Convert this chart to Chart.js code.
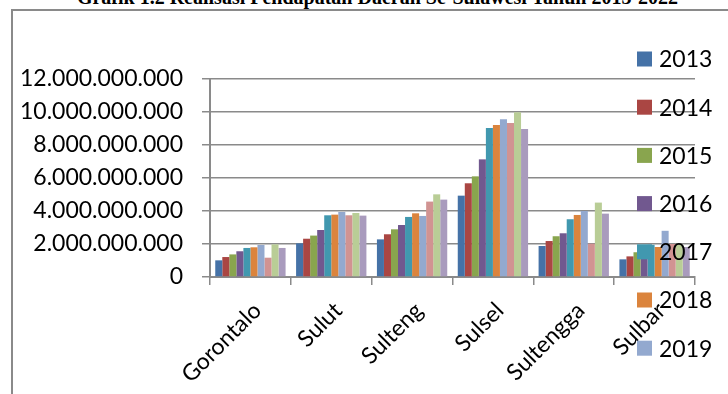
<!DOCTYPE html>
<html>
<head>
<meta charset="utf-8">
<title>Grafik 1.2 Realisasi Pendapatan Daerah Se-Sulawesi</title>
<script src="https://cdn.jsdelivr.net/npm/chart.js@4/dist/chart.umd.min.js"></script>
<style>
    html, body { margin: 0; padding: 0; background: #fff; overflow: hidden; }
    #wrap { position: relative; width: 728px; height: 394px; overflow: hidden; }
    #title {
        position: absolute; left: 0; top: -13px; width: 755px;
        text-align: center; font: bold 20px "Liberation Serif", serif;
        line-height: 20px; color: #000; white-space: nowrap;
    }
    #frame {
        position: absolute; left: 11px; top: 9px; width: 800px; height: 500px;
        border: 2px solid #8a8a8a;
    }
    #chart { position: absolute; left: 0; top: 0; }
</style>
</head>
<body>
<div id="wrap">
    <div id="title">Grafik 1.2 Realisasi Pendapatan Daerah Se-Sulawesi Tahun 2013-2022</div>
    <div id="frame"></div>
    <canvas id="chart" width="728" height="394"></canvas>
</div>
<script>
// Categories (provinces) and series (years)
const regions = ['Gorontalo', 'Sulut', 'Sulteng', 'Sulsel', 'Sultengga', 'Sulbar'];
const years = ['2013', '2014', '2015', '2016', '2017', '2018', '2019', '2020', '2021', '2022'];

// Realisasi pendapatan (Rp)
const y2013 = [1010000000, 2040000000, 2280000000, 4930000000, 1880000000, 1070000000];
const y2014 = [1210000000, 2320000000, 2590000000, 5680000000, 2180000000, 1250000000];
const y2015 = [1370000000, 2510000000, 2890000000, 6100000000, 2470000000, 1500000000];
const y2016 = [1560000000, 2850000000, 3150000000, 7130000000, 2650000000, 1750000000];
const y2017 = [1760000000, 3740000000, 3640000000, 9030000000, 3500000000, 1950000000];
const y2018 = [1800000000, 3780000000, 3860000000, 9210000000, 3760000000, 1820000000];
const y2019 = [1940000000, 3940000000, 3700000000, 9560000000, 4000000000, 2800000000];
const y2020 = [1170000000, 3740000000, 4570000000, 9330000000, 2020000000, 2000000000];
const y2021 = [1980000000, 3880000000, 5010000000, 9980000000, 4510000000, 1980000000];
const y2022 = [1760000000, 3720000000, 4690000000, 8970000000, 3840000000, 1820000000];

// Y axis ticks
const yTicks = [0, 2000000000, 4000000000, 6000000000, 8000000000, 10000000000, 12000000000];

const seriesValues = [y2013, y2014, y2015, y2016, y2017, y2018, y2019, y2020, y2021, y2022];
const colors = ['#4572A7', '#AA4643', '#89A54E', '#71588F', '#4198AF',
                '#DB843D', '#93A9CF', '#D19392', '#B9CD96', '#A99BBD'];

const AXIS_GREY = '#8a8a8a';
const FONT = { family: 'Lato, "Liberation Sans", sans-serif', size: 23 };

// dots as thousands separator, e.g. 12.000.000.000
function formatRp(v) {
    return String(v).replace(/\B(?=(\d{3})+(?!\d))/g, '.');
}

// Excel-style legend stacked at the right, drawn over the plot
// (the original is cut off after 2019, so clip there too)
const sideLegend = {
    id: 'sideLegend',
    afterDraw(chart) {
        const ctx = chart.ctx;
        ctx.save();
        ctx.beginPath();
        ctx.rect(0, 0, chart.width, 380);
        ctx.clip();
        ctx.font = FONT.size + 'px ' + FONT.family;
        ctx.textAlign = 'left';
        ctx.textBaseline = 'alphabetic';
        chart.data.datasets.forEach((ds, i) => {
            const cy = 59 + i * 48.2;
            ctx.fillStyle = ds.backgroundColor;
            ctx.fillRect(637, cy - 7.5, 15, 15);
            ctx.fillStyle = '#000';
            ctx.fillText(ds.label, 659, cy + 8.3);
        });
        ctx.restore();
    }
};

document.addEventListener('DOMContentLoaded', () => {
    const ctx = document.getElementById('chart').getContext('2d');

    new Chart(ctx, {
        type: 'bar',
        data: {
            labels: regions,
            datasets: years.map((y, i) => ({
                label: y,
                data: seriesValues[i],
                backgroundColor: colors[i],
                borderWidth: 0,
                barPercentage: 1.0,
                categoryPercentage: 0.87
            }))
        },
        options: {
            responsive: false,
            animation: false,
            layout: { padding: { top: 79, right: 33, left: 0, bottom: 0 } },
            plugins: {
                legend: { display: false },
                title: { display: false },
                tooltip: { enabled: false }
            },
            scales: {
                x: {
                    offset: true,
                    grid: {
                        offset: true,
                        drawOnChartArea: false,
                        drawTicks: true,
                        tickLength: 8,
                        color: AXIS_GREY,
                        lineWidth: 1.5
                    },
                    border: { display: true, color: AXIS_GREY, width: 2 },
                    ticks: {
                        color: '#000',
                        font: FONT,
                        autoSkip: false,
                        minRotation: 45,
                        maxRotation: 45,
                        padding: 12,
                        labelOffset: 7
                    },
                    afterFit(scale) { scale.height = 117; }
                },
                y: {
                    min: 0,
                    max: 12000000000,
                    afterBuildTicks(scale) {
                        scale.ticks = yTicks.map(v => ({ value: v }));
                    },
                    grid: {
                        color: AXIS_GREY,
                        lineWidth: 1.5,
                        drawTicks: true,
                        tickLength: 8
                    },
                    border: { display: true, color: AXIS_GREY, width: 2 },
                    ticks: {
                        color: '#000',
                        font: FONT,
                        padding: 19,
                        callback: v => formatRp(v)
                    },
                    afterFit(scale) { scale.width = 210; }
                }
            }
        },
        plugins: [sideLegend]
    });
});
</script>
</body>
</html>
